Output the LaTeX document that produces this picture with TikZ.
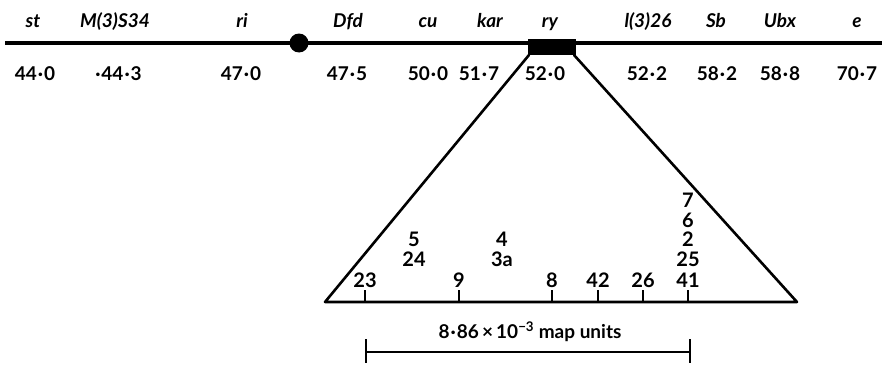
\documentclass[tikz,border=0pt]{standalone}
\usepackage{fontspec}
\setmainfont{Lato}
\usetikzlibrary{calc}
\newcommand\md{\kern1pt·\kern1pt}
\begin{document}
\begin{tikzpicture}[x=1pt,y=-1pt,
  gene/.style={font=\fontsize{19}{21}\selectfont\bfseries\itshape, anchor=base},
  mapnum/.style={font=\fontsize{19}{21}\selectfont\bfseries, anchor=base},
  site/.style={font=\fontsize{20}{22}\selectfont\bfseries, anchor=base},
  chrom/.style={line width=3.4pt},
  tri/.style={line width=2.6pt, line cap=round, line join=round},
  tickmark/.style={line width=1.8pt},
  scalebar/.style={line width=2pt}]
\useasboundingbox (0,0) rectangle (882,364);

% chromosome
\coordinate (cl) at (5,43);
\coordinate (cr) at (882,43);
\draw[chrom] (cl) -- (cr);
\fill (299,43) circle (9.5) node (cen) {};
\fill (528,39) rectangle (576,55);
\node (ryblk) at (552,47) {};

% gene labels
\foreach \x/\t/\n in {33/st/g1,115/M(3)S34/g2,242/ri/g3,348/Dfd/g4,428/cu/g5,490/kar/g6,550/ry/g7,648/l(3)26/g8,716/Sb/g9,780/Ubx/g10,857/e/g11}
  \node[gene] (\n) at (\x,27) {\t};

% positions
\foreach \x/\t/\n in {35/44\md0/p1,118/\md44\md3/p2,241/47\md0/p3,347/47\md5/p4,428/50\md0/p5,479/51\md7/p6,545/52\md0/p7,647/52\md2/p8,717/58\md2/p9,780/58\md8/p10,857/70\md7/p11}
  \node[mapnum] (\n) at (\x,80) {\t};

% expanded region
\coordinate (tl) at (529,55);
\coordinate (tr) at (574,55);
\coordinate (bl) at (325,302);
\coordinate (br) at (797,302);
\draw[tri] (tl) -- (bl) -- (br) -- (tr);

% ticks and site labels
\foreach \x/\t/\n in {365/23/s1,459/9/s2,552/8/s3,598/42/s4,643/26/s5,688/41/s6}{
  \coordinate (t\n) at (\x,302);
  \draw[tickmark] (t\n) -- ++(0,-12);
  \node[site] (\n) at (\x,287) {\t};
}
\node[site] (s25) at (688,266) {25};
\node[site] (s2b) at (688,246) {2};
\node[site] (s6b) at (688,227) {6};
\node[site] (s7) at (688,207) {7};
\node[site] (s5) at (414,246) {5};
\node[site] (s24) at (414,266) {24};
\node[site] (s4) at (502,246) {4};
\node[site] (s3a) at (502,266) {3a};

% scale bar
\coordinate (sl) at (366,352);
\coordinate (sr) at (690,352);
\draw[scalebar] (sl) -- (sr);
\draw[scalebar] ($(sl)+(0,-13)$) -- ($(sl)+(0,11)$);
\draw[scalebar] ($(sr)+(0,-13)$) -- ($(sr)+(0,11)$);
\node[mapnum] (sc) at (530,338) {8\md86\,×\,10\textsuperscript{−3} map units};
\end{tikzpicture}
\end{document}
